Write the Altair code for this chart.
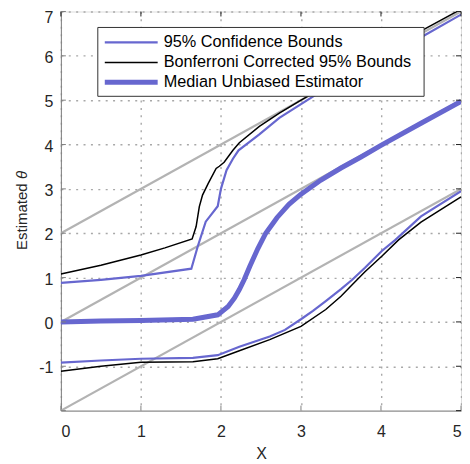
import altair as alt
import pandas as pd

# ---- data ----
ref_x = [0, 5]
ref_hi = [2, 7]
ref_mid = [0, 5]
ref_lo = [-2, 3]

ci_up_x = [0, 0.5, 1.0, 1.63, 1.71, 1.81, 1.96, 2.0, 2.07, 2.15, 2.22, 2.35, 2.48, 2.73, 3.06, 3.5, 4.0, 4.54, 5.0]
ci_up_y = [0.88, 0.95, 1.04, 1.2, 1.7, 2.26, 2.61, 3.0, 3.42, 3.68, 3.87, 4.05, 4.23, 4.6, 4.98, 5.48, 5.97, 6.46, 6.93]

ci_lo_x = [0, 0.5, 1.0, 1.65, 1.96, 2.23, 2.61, 2.8, 3.0, 3.15, 3.31, 3.5, 3.64, 3.8, 4.01, 4.18, 4.5, 5.0]
ci_lo_y = [-0.92, -0.87, -0.83, -0.81, -0.75, -0.56, -0.33, -0.18, 0.06, 0.25, 0.47, 0.74, 0.95, 1.22, 1.6, 1.85, 2.38, 2.95]

bf_up_x = [0, 0.5, 1.0, 1.3, 1.64, 1.69, 1.73, 1.77, 1.84, 1.94, 1.98, 2.04, 2.15, 2.23, 2.48, 2.73, 2.98, 3.5, 4.0, 4.56, 5.0]
bf_up_y = [1.08, 1.28, 1.51, 1.67, 1.87, 2.15, 2.6, 2.86, 3.12, 3.46, 3.51, 3.6, 3.87, 4.04, 4.41, 4.71, 4.98, 5.52, 6.04, 6.62, 7.05]

bf_lo_x = [0, 0.5, 1.0, 1.65, 1.96, 2.23, 2.61, 3.0, 3.31, 3.5, 3.64, 3.8, 4.01, 4.22, 4.5, 5.0]
bf_lo_y = [-1.11, -1.0, -0.91, -0.9, -0.83, -0.65, -0.4, -0.1, 0.28, 0.58, 0.84, 1.13, 1.48, 1.85, 2.25, 2.82]

med_x = [0, 0.5, 1.0, 1.65, 1.96, 2.09, 2.17, 2.23, 2.29, 2.36, 2.46, 2.56, 2.7, 2.85, 3.0, 3.25, 3.5, 3.75, 4.0, 4.5, 5.0]
med_y = [0, 0.02, 0.03, 0.06, 0.16, 0.35, 0.54, 0.73, 0.95, 1.25, 1.65, 2.0, 2.35, 2.65, 2.88, 3.2, 3.47, 3.72, 3.98, 4.48, 4.97]

x_ticks = [0, 1, 2, 3, 4, 5]
y_ticks = [-1, 0, 1, 2, 3, 4, 5, 6, 7]
y_all_ticks = [-2, -1, 0, 1, 2, 3, 4, 5, 6, 7]

legend_labels = ["95% Confidence Bounds", "Bonferroni Corrected 95% Bounds", "Median Unbiased Estimator"]
y_title_parts = ["Estimated", "θ"]

BLUE = "#6767cf"
GRAY = "#b3b3b3"
FONT = "Liberation Sans"
W = 401
H = 400

xs = alt.Scale(domain=[0, 5], nice=False, zero=False)
ys = alt.Scale(domain=[-2, 7], nice=False, zero=False)

xaxis = alt.Axis(values=x_ticks, grid=True, gridDash=[2, 5.4], gridColor="#a8a8a8", gridWidth=1.4,
                 domainColor="#808080", tickSize=0, labelPadding=13, labelFontSize=16,
                 labelFont=FONT, labelColor="#262626", titleFont=FONT, titleFontSize=16,
                 titleFontWeight="normal", titleColor="#262626", titleBaseline="alphabetic",
                 titleY=48)
yaxis = alt.Axis(values=y_ticks, grid=True, gridDash=[2, 5.4], gridColor="#a8a8a8", gridWidth=1.4,
                 domainColor="#808080", tickSize=0, labelPadding=8, labelFontSize=16,
                 labelFont=FONT, labelColor="#262626", labelExpr="'' + datum.value",
                 labelOffset={"condition": {"test": "datum.value == 7", "value": 6.3}, "value": 1.5},
                 title=None)

X = alt.X("x:Q", scale=xs, axis=xaxis, title="X")
Y = alt.Y("y:Q", scale=ys, axis=yaxis)


def line(xv, yv, color, width):
    df = pd.DataFrame({"x": xv, "y": yv})
    return alt.Chart(df).mark_line(color=color, strokeWidth=width, clip=True).encode(x=X, y=Y)


layers = [
    line(ref_x, ref_hi, GRAY, 2.2),
    line(ref_x, ref_mid, GRAY, 2.2),
    line(ref_x, ref_lo, GRAY, 2.2),
    line(bf_up_x, bf_up_y, "black", 1.5),
    line(bf_lo_x, bf_lo_y, "black", 1.5),
    line(ci_up_x, ci_up_y, BLUE, 2.2),
    line(ci_lo_x, ci_lo_y, BLUE, 2.2),
    line(med_x, med_y, BLUE, 5),
]

# inward ticks on all four sides
xt = pd.DataFrame({"x": x_ticks})
yt = pd.DataFrame({"y": y_all_ticks})
layers += [
    alt.Chart(xt).mark_rule(color="#808080").encode(x=X, y=alt.value(H), y2=alt.value(H - 5)),
    alt.Chart(xt).mark_rule(color="#222222").encode(x=X, y=alt.value(0), y2=alt.value(5)),
    alt.Chart(yt).mark_rule(color="#808080").encode(y=Y, x=alt.value(0), x2=alt.value(5)),
    alt.Chart(yt).mark_rule(color="#222222").encode(y=Y, x=alt.value(W), x2=alt.value(W - 5)),
]

# y-axis title with italic theta
tdf = pd.DataFrame({"t": [y_title_parts[0]]})
layers.append(alt.Chart(tdf).mark_text(angle=270, align="left", baseline="alphabetic", font=FONT,
                                       fontSize=15, color="#262626").encode(
    x=alt.value(-34), y=alt.value(239), text="t:N"))
tdf2 = pd.DataFrame({"t": [y_title_parts[1]]})
layers.append(alt.Chart(tdf2).mark_text(angle=270, align="left", baseline="alphabetic", font=FONT,
                                        fontSize=15, fontStyle="italic", color="#262626").encode(
    x=alt.value(-34), y=alt.value(168), text="t:N"))

# legend box
box = pd.DataFrame({"k": [0]})
layers.append(
    alt.Chart(box).mark_rect(fill="white", stroke="#333333", strokeWidth=1).encode(
        x=alt.value(37), x2=alt.value(364), y=alt.value(16), y2=alt.value(85)))
styles = [(BLUE, 2.2), ("black", 1.5), (BLUE, 5)]
for i, (lab, (c, w)) in enumerate(zip(legend_labels, styles)):
    d = pd.DataFrame({"label": [lab]})
    yy = 31 + 20 * i
    layers.append(alt.Chart(d).mark_rule(color=c, strokeWidth=w).encode(
        x=alt.value(44), x2=alt.value(97), y=alt.value(yy)))
    layers.append(alt.Chart(d).mark_text(align="left", baseline="middle", font=FONT, fontSize=16.3,
                                         color="black").encode(
        x=alt.value(103), y=alt.value(yy), text="label:N"))

chart = alt.layer(*layers).properties(
    width=W, height=H,
    autosize=alt.AutoSizeParams(type="none"),
    padding={"left": 53, "top": 3, "right": 1, "bottom": 50},
).configure_view(stroke="#222222", strokeWidth=1).configure(background="white")

chart.save("out.html", embed_options={"renderer": "svg", "actions": False})
